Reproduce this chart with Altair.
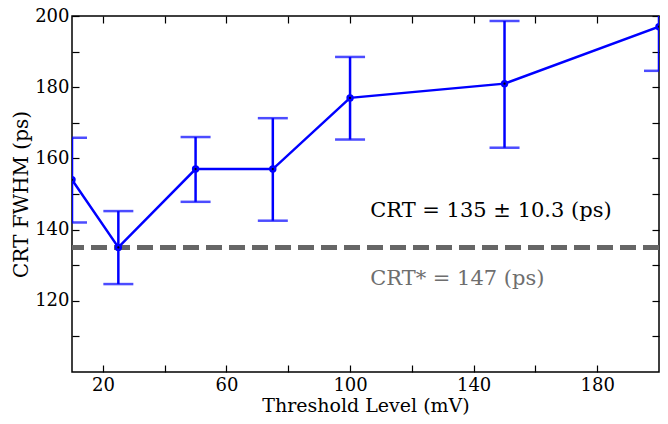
"""CRT FWHM versus threshold level, with error bars and reference line."""

import pandas as pd
import altair as alt

threshold = [10, 25, 50, 75, 100, 150, 200]
crt_fwhm = [154, 135, 157, 157, 177, 181, 197]
err_low = [142, 124.7, 147.8, 142.5, 165.3, 163, 184.6]
err_high = [165.8, 145.2, 166, 171.3, 188.5, 198.6, 209]

crt_ref = 135
labels = ["CRT = 135 \u00b1 10.3 (ps)", "CRT* = 147 (ps)"]
label_x = [106.5, 106.5]
label_y = [143.4, 124.4]
label_color = ["#000000", "#6e6e6e"]

FONT = "DejaVu Serif"
BLUE = "#0000ff"

df = pd.DataFrame({"x": threshold, "y": crt_fwhm, "lo": err_low, "hi": err_high})
ref_df = pd.DataFrame({"y": [crt_ref]})
text_df = pd.DataFrame({"x": label_x, "y": label_y, "t": labels, "c": label_color})

x_scale = alt.Scale(domain=[10, 200], nice=False, zero=False)
y_scale = alt.Scale(domain=[100, 200], nice=False, zero=False)

x_vals = list(range(20, 200, 20))
y_vals = list(range(110, 210, 10))

tick_style = dict(offset=-7, tickSize=7, domain=False, grid=False,
                  tickColor="black", tickWidth=1.2)
x_axis = alt.Axis(values=x_vals, labelExpr="datum.value % 40 == 20 ? datum.label : ''",
                  title="Threshold Level (mV)", labelPadding=4, titlePadding=2,
                  titleFontSize=19, **tick_style)
y_axis = alt.Axis(values=y_vals, labelExpr="datum.value % 20 == 0 ? datum.label : ''",
                  title="CRT FWHM (ps)", labelPadding=3, titlePadding=3, **tick_style)
x_top = alt.Axis(values=x_vals, orient="top", labels=False, title=None, **tick_style)
y_right = alt.Axis(values=y_vals, orient="right", labels=False, title=None, **tick_style)

ref_line = alt.Chart(ref_df).mark_rule(
    color="#666666", strokeWidth=5, strokeDash=[16, 7], clip=True
).encode(
    y=alt.Y("y:Q", scale=y_scale, axis=y_axis)
)

base = alt.Chart(df)

line = base.mark_line(color=BLUE, strokeWidth=2.5, clip=True).encode(
    x=alt.X("x:Q", scale=x_scale, axis=x_axis),
    y=alt.Y("y:Q", scale=y_scale, axis=None)
)

bars = base.mark_rule(color=BLUE, strokeWidth=2.5, clip=True).encode(
    x=alt.X("x:Q", scale=x_scale, axis=x_top),
    y=alt.Y("lo:Q", scale=y_scale, axis=y_right),
    y2="hi:Q"
)

caps_lo = base.mark_tick(color=BLUE, orient="horizontal", size=30, thickness=2.5,
                         clip=True).encode(
    x=alt.X("x:Q", scale=x_scale, axis=None),
    y=alt.Y("lo:Q", scale=y_scale, axis=None)
)
caps_hi = base.mark_tick(color=BLUE, orient="horizontal", size=30, thickness=2.5,
                         clip=True).encode(
    x=alt.X("x:Q", scale=x_scale, axis=None),
    y=alt.Y("hi:Q", scale=y_scale, axis=None)
)

points = base.mark_circle(color=BLUE, size=55, opacity=1, clip=True).encode(
    x=alt.X("x:Q", scale=x_scale, axis=None),
    y=alt.Y("y:Q", scale=y_scale, axis=None)
)
centers = base.mark_circle(color="black", size=5, opacity=1, clip=True).encode(
    x=alt.X("x:Q", scale=x_scale, axis=None),
    y=alt.Y("y:Q", scale=y_scale, axis=None)
)

notes = alt.Chart(text_df).mark_text(
    align="left", baseline="alphabetic", font=FONT, fontSize=21
).encode(
    x=alt.X("x:Q", scale=x_scale, axis=None),
    y=alt.Y("y:Q", scale=y_scale, axis=None),
    text="t:N",
    color=alt.Color("c:N", scale=None)
)

chart = alt.layer(
    ref_line, line, bars, caps_lo, caps_hi, points, centers, notes
).resolve_axis(
    x="independent", y="independent"
).properties(
    width=587,
    height=356,
    autosize=alt.AutoSizeParams(type="none"),
    padding={"left": 64, "top": 8, "right": 1, "bottom": 44}
).configure_view(
    stroke="black", strokeWidth=1.5
).configure_axis(
    labelFont=FONT, titleFont=FONT, labelFontSize=18, titleFontSize=20,
    labelColor="black", titleColor="black", titleFontWeight="normal"
)

chart.save("out.html", embed_options={"renderer": "svg", "actions": False})
